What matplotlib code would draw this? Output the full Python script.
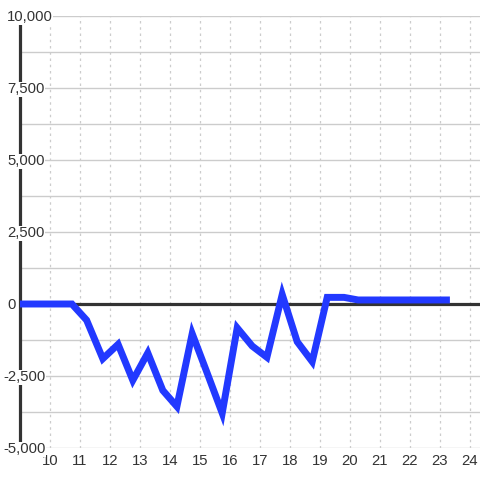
import matplotlib
matplotlib.use("Agg")
import matplotlib.pyplot as plt
from matplotlib.transforms import blended_transform_factory, ScaledTranslation

# ---- data ----
x_vals = [9.0, 10.73, 11.22, 11.76, 12.27, 12.76, 13.26, 13.76, 14.23, 14.74,
          15.24, 15.74, 16.24, 16.74, 17.23, 17.74, 18.24, 18.74, 19.24, 19.8,
          20.27, 23.33]
y_vals = [0, 0, -560, -1900, -1400, -2650, -1700, -3000, -3560, -1030,
          -2400, -3790, -830, -1460, -1850, 330, -1310, -2000, 230, 230,
          140, 140]
x_ticks = list(range(10, 25))
y_ticks = [10000, 7500, 5000, 2500, 0, -2500, -5000]
y_tick_labels = ["10,000", "7,500", "5,000", "2,500", "0", "-2,500", "-5,000"]

plt.rcParams['font.family'] = ['Liberation Sans', 'DejaVu Sans']
FS = 10.7

fig = plt.figure(figsize=(4.8, 4.8), dpi=100)
ax = fig.add_axes([20/480, 32/480, 460/480, 432/480])
ax.set_xlim(9, 9 + 460/30)
ax.set_ylim(-5000, 10000)

for s in ['top', 'right', 'bottom']:
    ax.spines[s].set_visible(False)
ax.spines['left'].set_color('#333333')
ax.spines['left'].set_linewidth(2.3)

# horizontal grid
gy = -5000
while gy <= 10000:
    ax.axhline(gy, color='#cccccc', lw=1, zorder=1)
    gy += 1250
# vertical dotted grid
for xt in x_ticks:
    ax.axvline(xt, color='#cccccc', lw=0.9, linestyle=(0, (2, 3)), zorder=1)

ax.axhline(0, color='#333333', lw=2.3, zorder=2)

ax.plot(x_vals, y_vals, color='#2239ff', lw=5, zorder=3,
        solid_joinstyle='miter', solid_capstyle='butt')

ax.set_yticks([])
ax.set_xticks(x_ticks)
ax.set_xticklabels([str(t) for t in x_ticks], fontsize=FS, color='#333333')
ax.tick_params(axis='x', length=0, pad=4)

base = blended_transform_factory(fig.transFigure, ax.transData)
# shift down so that digit centres sit on the grid line
trans = base + ScaledTranslation(0, -5.3/100, fig.dpi_scale_trans)
for v, lab in zip(y_ticks, y_tick_labels):
    xpix = 3.5 if v < 0 else 7
    ax.text(xpix/480, v, lab, transform=trans, ha='left', va='baseline',
            fontsize=FS, color='#333333', zorder=5, clip_on=False,
            bbox=dict(facecolor='white', edgecolor='none', pad=0.3))

fig.savefig('out.png', dpi=100)
